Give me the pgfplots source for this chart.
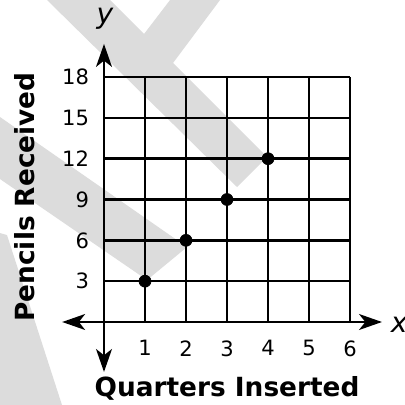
\documentclass[border=0pt]{standalone}
\usepackage{fontspec}
\setmainfont{DejaVu Sans}
\usepackage{pgfplots}
\pgfplotsset{compat=1.18}
\usetikzlibrary{arrows.meta}
\definecolor{wm}{RGB}{220,220,220}
\begin{document}
\begin{tikzpicture}
\useasboundingbox (0,0) rectangle (8.1cm,8.1cm);
% watermark, in pixel units of the 405 px reference
\begin{scope}[x=0.02cm,y=-0.02cm,shift={(0,8.1cm)}]
  \fill[wm] (47,0) -- (110,0) -- (144,34) -- (170,0) -- (220,0) -- (173,63)
            -- (267,157) -- (237,187) -- cycle;
  \fill[wm] (0,117) -- (187,247) -- (147,280) -- (0,179) -- cycle;
  \fill[wm] (0,233) -- (7,235) -- (62,405) -- (0,405) -- cycle;
\end{scope}
\begin{axis}[
  at={(2.08cm,1.66cm)}, anchor=origin,
  x=0.82cm, y=0.2722cm,
  xmin=0, xmax=6, ymin=0, ymax=18,
  axis line style={draw=none},
  xtick={1,...,6}, ytick={3,6,...,18},
  grid=major, major grid style={black, line width=1.45pt},
  major tick length=0pt,
  clip=false,
  tick label style={font=\fontsize{12}{14}\selectfont},
  /pgf/number format/assume math mode=true,
  xticklabel style={yshift=-7pt},
  yticklabel style={xshift=-5pt},
]
  \addplot[only marks, mark=*, mark size=3.4pt, black]
    coordinates {(1,3) (2,6) (3,9) (4,12)};
  \draw[line width=1.45pt,
    {Stealth[length=13pt,width=9pt,inset=3.5pt]}-{Stealth[length=13pt,width=9pt,inset=3.5pt]}]
    (-1.02,0) -- (6.78,0);
  \draw[line width=1.45pt,
    {Stealth[length=13pt,width=9pt,inset=3.5pt]}-{Stealth[length=13pt,width=9pt,inset=3.5pt]}]
    (0,20.43) -- (0,-3.67);
\end{axis}
\begin{scope}[x=0.02cm,y=-0.02cm,shift={(0,8.1cm)}]
  \node[font=\fontsize{15}{17}\selectfont\bfseries, rotate=90] at (25,197) {Pencils Received};
  \node[font=\fontsize{15}{17}\selectfont\bfseries] at (227,388) {Quarters Inserted};
  \node[font=\fontsize{16}{18}\selectfont\itshape] at (105,19) {y};
  \node[font=\fontsize{16}{18}\selectfont\itshape] at (399,325) {x};
\end{scope}
\end{tikzpicture}
\end{document}
